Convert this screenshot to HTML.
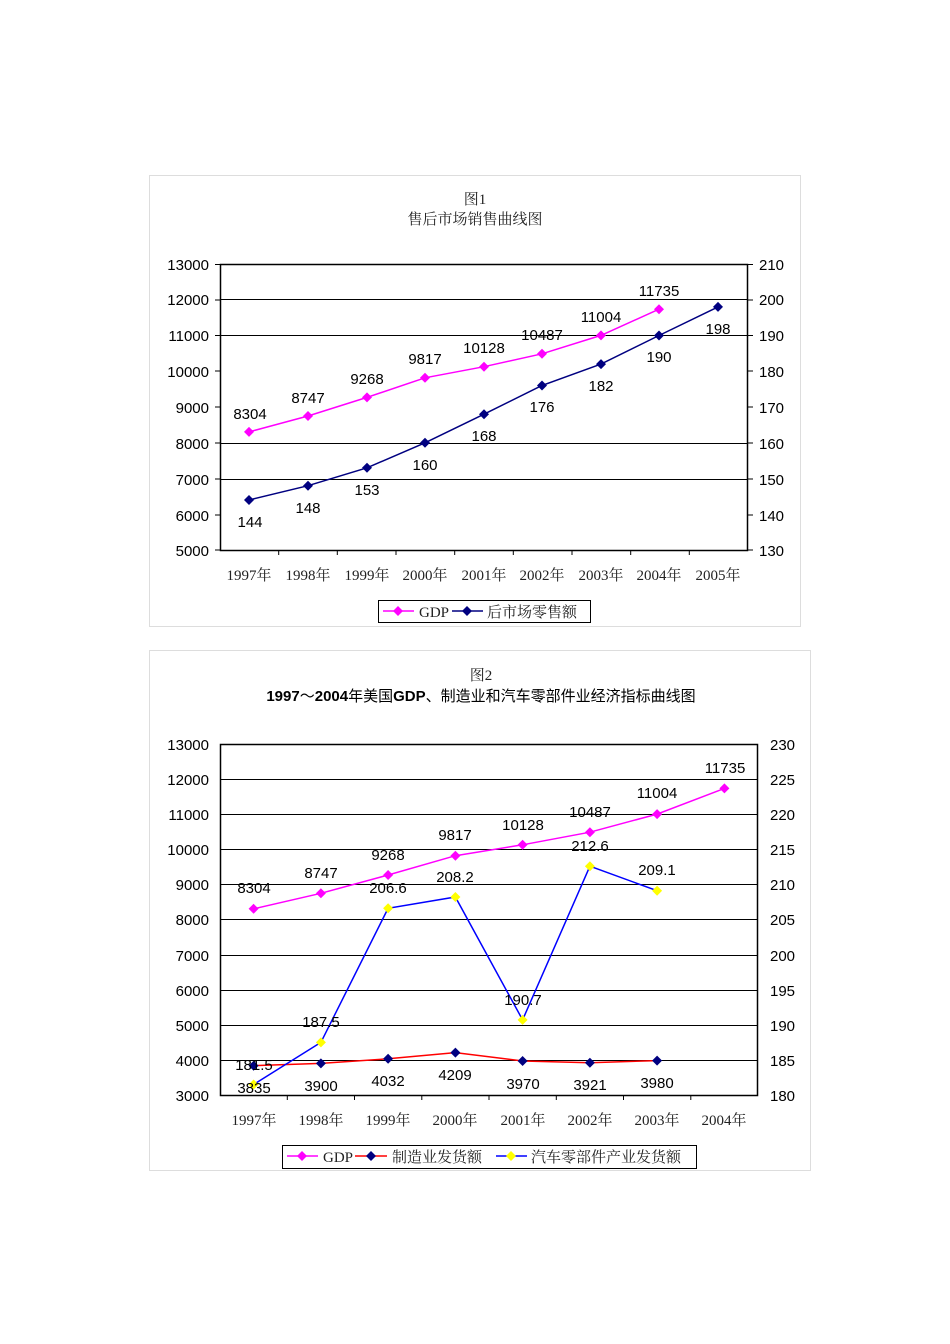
<!DOCTYPE html>
<html><head><meta charset="utf-8"><style>
html,body{margin:0;padding:0;background:#fff;width:950px;height:1344px;overflow:hidden}
svg{display:block}
.s{font-family:"Liberation Sans","Noto Sans CJK SC",sans-serif;font-size:15px;fill:#000}
.sf{font-family:"Liberation Serif","Noto Serif CJK SC",serif;font-size:15px;fill:#222}
</style></head><body>
<svg width="950" height="1344" viewBox="0 0 950 1344">
<defs>
<path id="dm" d="M0,-5 L5,0 L0,5 L-5,0 Z"/>
</defs>
<!-- Chart 1 -->
<rect x="149.5" y="175.5" width="651" height="451" fill="none" stroke="#ddd"/>
<text class="sf" x="475" y="204" text-anchor="middle">图1</text>
<text class="sf" x="475" y="224" text-anchor="middle" font-size="16">售后市场销售曲线图</text>
<g stroke="#000" stroke-width="1">
<line x1="220" y1="299.5" x2="748" y2="299.5"/>
<line x1="220" y1="335.5" x2="748" y2="335.5"/>
<line x1="220" y1="443.5" x2="748" y2="443.5"/>
<line x1="220" y1="479.5" x2="748" y2="479.5"/>
<rect x="220.5" y="264.5" width="527" height="286" fill="none" stroke-width="1.5"/>
<path d="M215,264.5h5M215,300h5M215,335.5h5M215,371h5M215,407h5M215,443h5M215,479h5M215,515h5M215,550h5M748,264.5h5M748,300h5M748,335.5h5M748,371h5M748,407h5M748,443h5M748,479h5M748,515h5M748,550h5"/>
<path d="M278.7,550v5M337.3,550v5M396,550v5M454.7,550v5M513.3,550v5M572,550v5M630.7,550v5M689.3,550v5"/>
</g>
<g class="s" text-anchor="end">
<text x="209" y="270">13000</text><text x="209" y="305">12000</text><text x="209" y="341">11000</text><text x="209" y="377">10000</text><text x="209" y="413">9000</text><text x="209" y="449">8000</text><text x="209" y="485">7000</text><text x="209" y="521">6000</text><text x="209" y="556">5000</text>
</g>
<g class="s">
<text x="759" y="270">210</text><text x="759" y="305">200</text><text x="759" y="341">190</text><text x="759" y="377">180</text><text x="759" y="413">170</text><text x="759" y="449">160</text><text x="759" y="485">150</text><text x="759" y="521">140</text><text x="759" y="556">130</text>
</g>
<g class="sf" text-anchor="middle">
<text x="249" y="580">1997年</text><text x="308" y="580">1998年</text><text x="367" y="580">1999年</text><text x="425" y="580">2000年</text><text x="484" y="580">2001年</text><text x="542" y="580">2002年</text><text x="601" y="580">2003年</text><text x="659" y="580">2004年</text><text x="718" y="580">2005年</text>
</g>
<polyline fill="none" stroke="#ff00ff" stroke-width="1.5" points="249,431.9 308,416 367,397.4 425,377.8 484,366.7 542,353.8 601,335.4 659,309.2"/>
<g fill="#ff00ff">
<use href="#dm" x="249" y="431.9"/><use href="#dm" x="308" y="416"/><use href="#dm" x="367" y="397.4"/><use href="#dm" x="425" y="377.8"/><use href="#dm" x="484" y="366.7"/><use href="#dm" x="542" y="353.8"/><use href="#dm" x="601" y="335.4"/><use href="#dm" x="659" y="309.2"/>
</g>
<polyline fill="none" stroke="#000080" stroke-width="1.5" points="249,500 308,485.7 367,467.8 425,442.8 484,414.2 542,385.5 601,364.1 659,335.5 718,306.9"/>
<g fill="#000080">
<use href="#dm" x="249" y="500"/><use href="#dm" x="308" y="485.7"/><use href="#dm" x="367" y="467.8"/><use href="#dm" x="425" y="442.8"/><use href="#dm" x="484" y="414.2"/><use href="#dm" x="542" y="385.5"/><use href="#dm" x="601" y="364.1"/><use href="#dm" x="659" y="335.5"/><use href="#dm" x="718" y="306.9"/>
</g>
<g class="s" text-anchor="middle" font-size="13.5">
<text x="250" y="419">8304</text><text x="308" y="403">8747</text><text x="367" y="384">9268</text><text x="425" y="364">9817</text><text x="484" y="353">10128</text><text x="542" y="340">10487</text><text x="601" y="322">11004</text><text x="659" y="296">11735</text>
<text x="250" y="527">144</text><text x="308" y="513">148</text><text x="367" y="495">153</text><text x="425" y="470">160</text><text x="484" y="441">168</text><text x="542" y="412">176</text><text x="601" y="391">182</text><text x="659" y="362">190</text><text x="718" y="334">198</text>
</g>
<rect x="378.5" y="600.5" width="212" height="22" fill="#fff" stroke="#000"/>
<line x1="383" y1="611" x2="414" y2="611" stroke="#ff00ff" stroke-width="1.5"/><use href="#dm" x="398" y="611" fill="#ff00ff"/>
<text class="sf" x="419" y="617">GDP</text>
<line x1="452" y1="611" x2="483" y2="611" stroke="#000080" stroke-width="1.5"/><use href="#dm" x="467" y="611" fill="#000080"/>
<text class="sf" x="487" y="617" font-size="16">后市场零售额</text>

<!-- Chart 2 -->
<rect x="149.5" y="650.5" width="661" height="520" fill="none" stroke="#ddd"/>
<text class="sf" x="481" y="680" text-anchor="middle">图2</text>
<text class="s" x="481" y="701" text-anchor="middle" font-size="16"><tspan font-weight="bold">1997</tspan>～<tspan font-weight="bold">2004</tspan>年美国<tspan font-weight="bold">GDP</tspan>、制造业和汽车零部件业经济指标曲线图</text>
<g stroke="#000" stroke-width="1">
<path d="M220,779.5h538M220,814.5h538M220,849.5h538M220,884.5h538M220,919.5h538M220,955.5h538M220,990.5h538M220,1025.5h538M220,1060.5h538"/>
<rect x="220.5" y="744.5" width="537" height="351" fill="none" stroke-width="1.5"/>
<path d="M287.3,1095v5M354.5,1095v5M421.8,1095v5M489,1095v5M556.3,1095v5M623.5,1095v5M690.8,1095v5"/>
</g>
<g class="s" text-anchor="end">
<text x="209" y="750">13000</text><text x="209" y="785">12000</text><text x="209" y="820">11000</text><text x="209" y="855">10000</text><text x="209" y="890">9000</text><text x="209" y="925">8000</text><text x="209" y="961">7000</text><text x="209" y="996">6000</text><text x="209" y="1031">5000</text><text x="209" y="1066">4000</text><text x="209" y="1101">3000</text>
</g>
<g class="s">
<text x="770" y="750">230</text><text x="770" y="785">225</text><text x="770" y="820">220</text><text x="770" y="855">215</text><text x="770" y="890">210</text><text x="770" y="925">205</text><text x="770" y="961">200</text><text x="770" y="996">195</text><text x="770" y="1031">190</text><text x="770" y="1066">185</text><text x="770" y="1101">180</text>
</g>
<g class="sf" text-anchor="middle">
<text x="254" y="1125">1997年</text><text x="321" y="1125">1998年</text><text x="388" y="1125">1999年</text><text x="455" y="1125">2000年</text><text x="523" y="1125">2001年</text><text x="590" y="1125">2002年</text><text x="657" y="1125">2003年</text><text x="724" y="1125">2004年</text>
</g>
<polyline fill="none" stroke="#ff00ff" stroke-width="1.5" points="253.6,908.8 320.9,893.3 388.1,875 455.4,855.7 522.6,844.8 589.9,832.2 657.1,814.1 724.4,788.4"/>
<g fill="#ff00ff">
<use href="#dm" x="253.6" y="908.8"/><use href="#dm" x="320.9" y="893.3"/><use href="#dm" x="388.1" y="875"/><use href="#dm" x="455.4" y="855.7"/><use href="#dm" x="522.6" y="844.8"/><use href="#dm" x="589.9" y="832.2"/><use href="#dm" x="657.1" y="814.1"/><use href="#dm" x="724.4" y="788.4"/>
</g>
<polyline fill="none" stroke="#ff0000" stroke-width="1.5" points="253.6,1065.7 320.9,1063.4 388.1,1058.8 455.4,1052.6 522.6,1061 589.9,1062.7 657.1,1060.6"/>
<g fill="#000080">
<use href="#dm" x="253.6" y="1065.7"/><use href="#dm" x="320.9" y="1063.4"/><use href="#dm" x="388.1" y="1058.8"/><use href="#dm" x="455.4" y="1052.6"/><use href="#dm" x="522.6" y="1061"/><use href="#dm" x="589.9" y="1062.7"/><use href="#dm" x="657.1" y="1060.6"/>
</g>
<polyline fill="none" stroke="#0000ff" stroke-width="1.5" points="253.6,1084.5 320.9,1042.4 388.1,908.3 455.4,897 522.6,1019.9 589.9,866.2 657.1,890.7"/>
<g fill="#ffff00">
<use href="#dm" x="253.6" y="1084.5"/><use href="#dm" x="320.9" y="1042.4"/><use href="#dm" x="388.1" y="908.3"/><use href="#dm" x="455.4" y="897"/><use href="#dm" x="522.6" y="1019.9"/><use href="#dm" x="589.9" y="866.2"/><use href="#dm" x="657.1" y="890.7"/>
</g>
<g class="s" text-anchor="middle" font-size="15">
<text x="254" y="893">8304</text><text x="321" y="878">8747</text><text x="388" y="860">9268</text><text x="455" y="840">9817</text><text x="523" y="830">10128</text><text x="590" y="817">10487</text><text x="657" y="798">11004</text><text x="725" y="773">11735</text>
<text x="254" y="1070">181.5</text><text x="321" y="1027">187.5</text><text x="388" y="893">206.6</text><text x="455" y="882">208.2</text><text x="523" y="1005">190.7</text><text x="590" y="851">212.6</text><text x="657" y="875">209.1</text>
<text x="254" y="1093">3835</text><text x="321" y="1091">3900</text><text x="388" y="1086">4032</text><text x="455" y="1080">4209</text><text x="523" y="1089">3970</text><text x="590" y="1090">3921</text><text x="657" y="1088">3980</text>
</g>
<rect x="282.5" y="1145.5" width="414" height="23" fill="#fff" stroke="#000"/>
<line x1="287" y1="1156" x2="318" y2="1156" stroke="#ff00ff" stroke-width="1.5"/><use href="#dm" x="302" y="1156" fill="#ff00ff"/>
<text class="sf" x="323" y="1162">GDP</text>
<line x1="355" y1="1156" x2="387" y2="1156" stroke="#ff0000" stroke-width="1.5"/><use href="#dm" x="371" y="1156" fill="#000080"/>
<text class="sf" x="392" y="1162" font-size="16">制造业发货额</text>
<line x1="496" y1="1156" x2="527" y2="1156" stroke="#0000ff" stroke-width="1.5"/><use href="#dm" x="511" y="1156" fill="#ffff00"/>
<text class="sf" x="531" y="1162" font-size="16">汽车零部件产业发货额</text>
</svg>
</body></html>
